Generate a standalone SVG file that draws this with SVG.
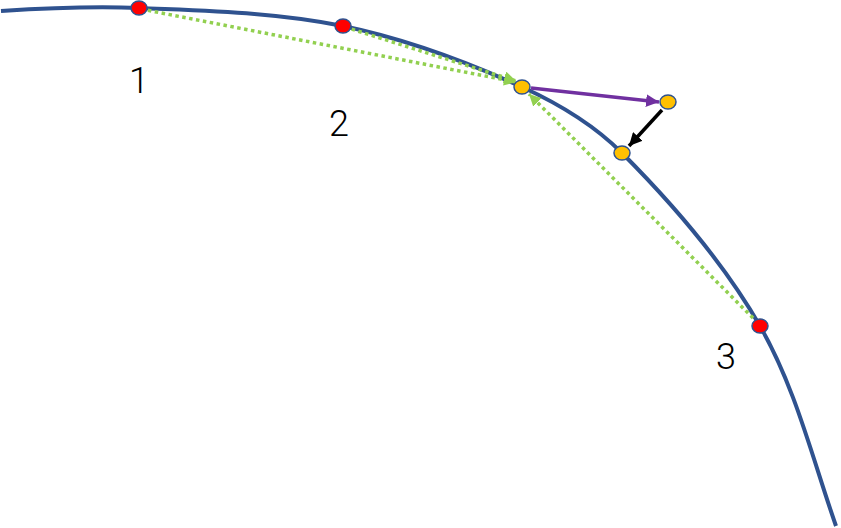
<svg xmlns="http://www.w3.org/2000/svg" width="841" height="528" viewBox="0 0 841 528">
<style>
.curve{fill:none;stroke:#2F528F;stroke-width:4}
.red{fill:#FF0000;stroke:#2F528F;stroke-width:1.5}
.yel{fill:#FFC000;stroke:#2F528F;stroke-width:1.5}
.green{fill:none;stroke:#92D050;stroke-width:3.5;stroke-dasharray:3.5 3.5}
.purple{fill:none;stroke:#7030A0;stroke-width:3.5}
.black{fill:none;stroke:#000;stroke-width:3.5}
.lbl{font-family:Roboto,"Liberation Sans",sans-serif;font-weight:300;font-size:36px;fill:#000;text-anchor:middle}
</style>
<defs>
<marker id="ag" markerUnits="userSpaceOnUse" markerWidth="14" markerHeight="12" refX="12" refY="6" orient="auto"><path d="M0,0 L12,6 L0,12 Z" fill="#92D050"/></marker>
<marker id="ap" markerUnits="userSpaceOnUse" markerWidth="15" markerHeight="13" refX="13" refY="6.5" orient="auto"><path d="M0,0 L13,6.5 L0,13 Z" fill="#7030A0"/></marker>
<marker id="ab" markerUnits="userSpaceOnUse" markerWidth="15" markerHeight="13" refX="13" refY="6.5" orient="auto"><path d="M0,0 L13,6.5 L0,13 Z" fill="#000"/></marker>
</defs>
<path class="curve" d="M1,11 C46.9,8 93,6 139,8 C207.2,11 276.1,12.2 343,26 C404.7,38.7 464.7,60.9 522,87 C558.4,103.6 593.8,124.7 622,153 C674.1,205.3 723.3,262 760,326 C795.5,387.8 812.5,458.7 836,526"/>
<g id="connectors">
<path class="green" d="M141,9 L516,82" marker-end="url(#ag)"/>
<path class="green" d="M345,27 L516,81" marker-end="url(#ag)"/>
<path class="green" d="M758,323 L529,94" marker-end="url(#ag)"/>
<path class="purple" d="M531,88 L659,102" marker-end="url(#ap)"/>
<path class="black" d="M662,110 L629,146" marker-end="url(#ab)"/>
</g>
<g id="p1"><ellipse class="red" cx="139" cy="8" rx="8" ry="7"/></g>
<g id="p2"><ellipse class="red" cx="343" cy="26" rx="8" ry="7"/></g>
<g id="p3"><ellipse class="red" cx="760" cy="326" rx="8" ry="7"/></g>
<g id="y1"><ellipse class="yel" cx="522" cy="87" rx="8" ry="7"/></g>
<g id="y2"><ellipse class="yel" cx="668" cy="102" rx="8" ry="7"/></g>
<g id="y3"><ellipse class="yel" cx="622" cy="153" rx="8" ry="7"/></g>
<g id="labels">
<text class="lbl" x="139" y="93">1</text>
<text class="lbl" x="339" y="136">2</text>
<text class="lbl" x="726" y="369">3</text>
</g>
</svg>
